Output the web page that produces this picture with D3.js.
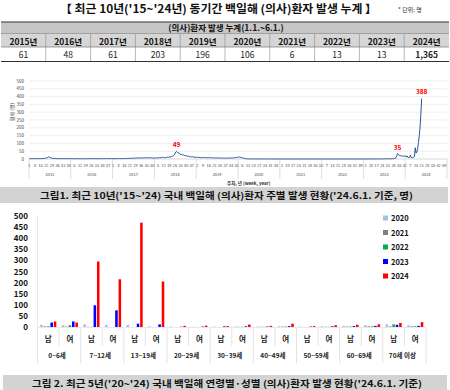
<!DOCTYPE html>
<head>
<meta charset="utf-8">
<script src="https://d3js.org/d3.v7.min.js"></script>
<style>
  body { margin: 0; background: #fff; }
  text { font-family: "Noto Sans CJK KR", "Noto Sans", sans-serif; }
</style>
</head>
<body>
<script>
var W = 450, H = 390;

// table data
var tableYears = ["2015년","2016년","2017년","2018년","2019년","2020년","2021년","2022년","2023년","2024년"];
var tableCounts = ["61","48","61","203","196","106","6","13","13","1,365"];

// weekly cases, one array per year
var weekYears = ["2015","2016","2017","2018","2019","2020","2021","2022","2023","2024"];
var w2015 = [2,3,2,2,3,2,3,2,3,3,2,3,2,3,3,2,3,4,3,4,5,6,8,10,14,12,9,7,5,4,3,3,4,3,2,3,2,3,2,2,3,2,3,2,2,3,2,2,3,2,2,3];
var w2016 = [2,2,3,2,2,1,2,2,3,2,2,1,2,2,2,3,2,2,2,1,2,2,3,2,2,3,2,2,2,3,2,2,1,2,2,3,2,2,3,2,2,3,2,2,3,3,2,3,2,3,3,2];
var w2017 = [2,3,2,2,3,2,3,3,2,3,3,2,3,3,4,3,3,4,3,4,4,5,4,5,5,6,5,6,5,6,7,6,7,6,8,7,6,8,7,8,6,7,9,8,7,8,9,7,8,6,7,6];
var w2018 = [5,6,8,7,6,8,9,8,10,9,11,10,8,9,11,10,12,11,13,12,14,16,18,20,24,32,44,49,42,38,40,34,30,32,26,24,27,22,20,23,19,17,18,15,16,14,13,15,12,11,13,10];
var w2019 = [10,12,9,11,10,8,9,10,11,9,8,10,9,8,7,9,8,7,8,9,7,8,7,6,7,8,6,7,6,5,7,6,5,6,7,5,6,5,6,7,6,5,6,7,8,7,6,8,9,10,9,11];
var w2020 = [12,14,11,10,9,8,6,5,3,2,2,1,1,1,0,1,0,1,1,0,1,0,0,1,0,1,0,0,1,0,0,1,0,0,1,0,0,0,1,0,0,1,0,0,0,1,0,0,1,0,0,1];
var w2021 = [0,0,1,0,0,0,1,0,0,0,0,1,0,0,0,0,1,0,0,0,0,0,1,0,0,0,0,1,0,0,0,0,0,1,0,0,0,0,1,0,0,0,0,0,1,0,0,0,0,1,0,0];
var w2022 = [0,1,0,0,0,0,1,0,0,0,1,0,0,0,0,1,0,0,0,0,1,0,0,0,1,0,0,0,0,1,0,0,0,1,0,0,0,0,1,0,0,0,1,0,0,0,0,1,0,0,0,1];
var w2023 = [0,1,0,0,1,0,1,0,0,1,0,1,1,0,1,0,1,1,0,1,1,0,1,1,0,1,1,2,1,1,2,1,2,1,2,2,3,2,3,4,8,22,35,28,24,22,20,21,18,19,16,22];
var w2024 = [14,12,20,10,9,11,24,10,8,9,12,15,72,38,45,68,105,150,205,290,388];
var weeklySeries = [w2015,w2016,w2017,w2018,w2019,w2020,w2021,w2022,w2023,w2024];
var weekTicks = [
  [1,8,15,22,29,36,43,50],[5,12,19,26,33,40,47],[1,8,15,22,29,36,43,50],[5,12,19,26,33,40,47],
  [2,9,16,23,30,37,44,51],[6,13,20,27,34,41,48],[3,10,17,24,31,38,45,52],[7,14,21,28,35,42,49],
  [3,10,17,24,31,38,45,52],[7,14,21,28,35,42,49]
];
var peakYears = [3, 8, 9];
var peakWeeks = [28, 43, 21];
var peakValues = [49, 35, 388];
var lineTicks = [0,50,100,150,200,250,300,350,400,450,500];

// bar chart data (남, 여 per age group)
var ageGroups = ["0~6세","7~12세","13~19세","20~29세","30~39세","40~49세","50~59세","60~69세","70세 이상"];
var sexes = ["남","여"];
var barYears = ["2020","2021","2022","2023","2024"];
var barColors = ["#9dc3e6","#808080","#00b050","#0000ff","#ff0000"];
var c2020 = [10,8,12,10,10,3,2,1,2,2,2,3,2,3,5,8,12,8];
var c2021 = [3,2,1,0,0,0,0,0,0,1,1,2,0,1,2,3,3,3];
var c2022 = [3,8,1,0,0,0,0,0,0,1,1,2,0,1,2,3,12,3];
var c2023 = [20,25,98,75,15,12,1,2,3,3,2,4,2,3,4,5,10,5];
var c2024 = [25,20,295,215,470,205,5,6,4,11,5,15,4,8,10,12,18,22];
var barSeries = [c2020,c2021,c2022,c2023,c2024];
var barTicks = [0,50,100,150,200,250,300,350,400,450,500];

var svg = d3.select("body").append("svg").attr("width", W).attr("height", H);

// ---- title + table
svg.append("text").attr("x", 60).attr("y", 13).attr("font-size", 11).attr("font-weight", "bold")
  .attr("textLength", 317).attr("lengthAdjust", "spacingAndGlyphs").attr("fill", "#111")
  .text("【 최근 10년('15~'24년) 동기간 백일해 (의사)환자 발생 누계 】");
svg.append("text").attr("x", 398).attr("y", 12).attr("font-size", 6).attr("fill", "#333")
  .text("* 단위: 명");

var colX = d3.scaleBand().domain(d3.range(10)).range([1, 449]);
svg.append("rect").attr("x", 1).attr("y", 22).attr("width", 448).attr("height", 11).attr("fill", "#c6c6c6");
svg.append("rect").attr("x", 1).attr("y", 34).attr("width", 448).attr("height", 13).attr("fill", "#d6d6d6");
svg.append("text").attr("x", 226).attr("y", 31).attr("text-anchor", "middle").attr("font-size", 8.5)
  .attr("font-weight", "bold").attr("fill", "#111").text("(의사)환자 발생 누계(1.1.~6.1.)");
[22, 33.5, 47].forEach(function(y, i) {
  svg.append("line").attr("x1", 1).attr("x2", 449).attr("y1", y).attr("y2", y)
    .attr("stroke", i == 0 ? "#333" : "#777").attr("stroke-width", i == 0 ? 1.2 : 0.7);
});
svg.append("line").attr("x1", 1).attr("x2", 449).attr("y1", 61.5).attr("y2", 61.5).attr("stroke", "#333").attr("stroke-width", 1.2);
d3.range(1, 10).forEach(function(i) {
  svg.append("line").attr("x1", colX(i)).attr("x2", colX(i)).attr("y1", 34).attr("y2", 61)
    .attr("stroke", "#888").attr("stroke-width", 0.6);
});
svg.selectAll(".yr").data(tableYears).enter().append("text")
  .attr("x", function(d, i) { return colX(i) + colX.bandwidth() / 2; }).attr("y", 44.5)
  .attr("text-anchor", "middle").attr("font-size", 8.5).attr("font-weight", "bold").attr("fill", "#111")
  .text(function(d) { return d; });
svg.selectAll(".cnt").data(tableCounts).enter().append("text")
  .attr("x", function(d, i) { return colX(i) + colX.bandwidth() / 2; }).attr("y", 58)
  .attr("text-anchor", "middle").attr("font-size", 8.5)
  .attr("font-weight", function(d, i) { return i == 9 ? "bold" : "normal"; }).attr("fill", "#222")
  .text(function(d) { return d; });

// ---- weekly line chart
var lx = d3.scaleLinear().domain([0, 520]).range([29, 447]);
var ly = d3.scaleLinear().domain([0, 500]).range([159, 81]);
var lg = svg.append("g");
lg.selectAll(".grid").data(lineTicks).enter().append("line")
  .attr("x1", 29).attr("x2", 447).attr("y1", function(d) { return ly(d); }).attr("y2", function(d) { return ly(d); })
  .attr("stroke", function(d) { return d == 0 ? "#bfbfbf" : "#e3e3e3"; }).attr("stroke-width", 0.6);
lg.selectAll(".ytl").data(lineTicks).enter().append("text")
  .attr("x", 24).attr("y", function(d) { return ly(d) + 1.5; }).attr("text-anchor", "end")
  .attr("font-size", 4.5).attr("fill", "#444").text(function(d) { return d; });
lg.append("text").attr("transform", "translate(14,112) rotate(-90)").attr("text-anchor", "middle")
  .attr("font-size", 5).attr("fill", "#444").text("환자 (명)");

d3.range(0, 11).forEach(function(i) {
  lg.append("line").attr("x1", lx(i * 52)).attr("x2", lx(i * 52)).attr("y1", 159).attr("y2", 179)
    .attr("stroke", "#c8c8c8").attr("stroke-width", 0.6);
});
weekTicks.forEach(function(ticks, yi) {
  lg.selectAll(".wt" + yi).data(ticks).enter().append("text")
    .attr("x", function(d) { return lx(yi * 52 + d - 0.5); }).attr("y", 166.5).attr("text-anchor", "middle")
    .attr("font-size", 3.8).attr("fill", "#444").text(function(d) { return d; });
});
lg.selectAll(".yl").data(weekYears).enter().append("text")
  .attr("x", function(d, i) { return lx(i * 52 + 26); }).attr("y", 175.5).attr("text-anchor", "middle")
  .attr("font-size", 4).attr("fill", "#444").text(function(d) { return d; });
lg.append("text").attr("x", 227).attr("y", 184.5).attr("font-size", 4.5).attr("fill", "#333")
  .attr("font-weight", "bold").text("주차, 년 (week, year)");

var points = [];
weeklySeries.forEach(function(arr, yi) {
  arr.forEach(function(v, wi) { points.push([yi * 52 + wi + 0.5, v]); });
});
var line = d3.line().x(function(d) { return lx(d[0]); }).y(function(d) { return ly(d[1]); });
lg.append("path").datum(points).attr("d", line).attr("fill", "none")
  .attr("stroke", "#2f5597").attr("stroke-width", 1);
lg.selectAll(".pk").data(peakValues).enter().append("text")
  .attr("x", function(d, i) { return lx(peakYears[i] * 52 + peakWeeks[i] - 0.5); })
  .attr("y", function(d) { return ly(d) - 4; }).attr("text-anchor", "middle")
  .attr("font-size", 6.5).attr("font-weight", "bold").attr("fill", "#ff0000")
  .text(function(d) { return d; });

// caption 1
svg.append("rect").attr("x", 0).attr("y", 187).attr("width", 448).attr("height", 16).attr("fill", "#d3d3d3");
svg.append("text").attr("x", 40).attr("y", 199).attr("font-size", 9).attr("font-weight", "bold")
  .attr("textLength", 373).attr("lengthAdjust", "spacingAndGlyphs").attr("fill", "#111")
  .text("그림1. 최근 10년('15~'24) 국내 백일해 (의사)환자 주별 발생 현황('24.6.1. 기준, 명)");

// ---- bar chart
var by = d3.scaleLinear().domain([0, 500]).range([327, 216]);
var bx = d3.scaleBand().domain(d3.range(18)).range([37.5, 426]);
var bxi = d3.scaleBand().domain(barYears).range([0, bx.bandwidth()]).paddingInner(0.25).paddingOuter(0.8);
var bg = svg.append("g");
bg.append("line").attr("x1", 37.5).attr("x2", 37.5).attr("y1", 216).attr("y2", 327).attr("stroke", "#d9d9d9").attr("stroke-width", 0.6);
bg.append("line").attr("x1", 37.5).attr("x2", 426).attr("y1", 327.5).attr("y2", 327.5).attr("stroke", "#d9d9d9").attr("stroke-width", 0.6);
bg.selectAll(".bt").data(barTicks).enter().append("text")
  .attr("x", 28).attr("y", function(d) { return by(d) + 3; }).attr("text-anchor", "end")
  .attr("font-size", 8).attr("font-weight", "bold").attr("fill", "#111").text(function(d) { return d; });

barSeries.forEach(function(arr, yi) {
  bg.selectAll(".b" + yi).data(arr).enter().append("rect")
    .attr("x", function(d, i) { return bx(i) + bxi(barYears[yi]); })
    .attr("y", function(d) { return by(d); })
    .attr("width", bxi.bandwidth())
    .attr("height", function(d) { return by(0) - by(d); })
    .attr("fill", barColors[yi]);
});

d3.range(0, 19).forEach(function(i) {
  var xx = i < 18 ? bx(i) : 426;
  bg.append("line").attr("x1", xx).attr("x2", xx).attr("y1", 328).attr("y2", i % 2 == 0 ? 363 : 346)
    .attr("stroke", "#d0d0d0").attr("stroke-width", 0.6);
});
bg.selectAll(".sx").data(d3.range(18)).enter().append("text")
  .attr("x", function(i) { return bx(i) + bx.bandwidth() / 2; }).attr("y", 342)
  .attr("text-anchor", "middle").attr("font-size", 7.5).attr("font-weight", "bold").attr("fill", "#222")
  .text(function(i) { return sexes[i % 2]; });
bg.selectAll(".ag").data(ageGroups).enter().append("text")
  .attr("x", function(d, i) { return bx(i * 2 + 1) - 2; }).attr("y", 358)
  .attr("text-anchor", "middle").attr("font-size", 6.5).attr("font-weight", "bold").attr("fill", "#222")
  .text(function(d) { return d; });

var leg = bg.selectAll(".lg").data(barYears).enter().append("g")
  .attr("transform", function(d, i) { return "translate(383," + (218 + i * 14.5) + ")"; });
leg.append("rect").attr("x", 0).attr("y", -2.5).attr("width", 5).attr("height", 5)
  .attr("fill", function(d, i) { return barColors[i]; });
leg.append("text").attr("x", 8).attr("y", 3).attr("font-size", 7.5).attr("font-weight", "bold")
  .attr("fill", "#111").text(function(d) { return d; });

// caption 2
svg.append("rect").attr("x", 3).attr("y", 375).attr("width", 444).attr("height", 15).attr("fill", "#d3d3d3");
svg.append("text").attr("x", 32).attr("y", 386.5).attr("font-size", 9).attr("font-weight", "bold")
  .attr("textLength", 390).attr("lengthAdjust", "spacingAndGlyphs").attr("fill", "#111")
  .text("그림 2. 최근 5년('20~'24) 국내 백일해 연령별·성별 (의사)환자 발생 현황('24.6.1. 기준)");
</script>
</body>
